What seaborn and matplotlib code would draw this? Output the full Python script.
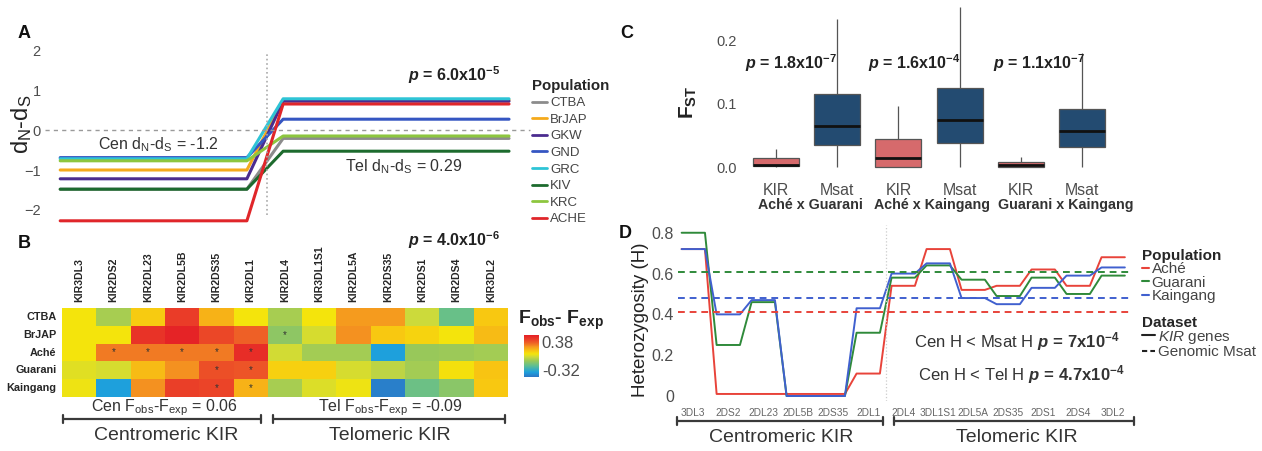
import numpy as np
import pandas as pd
import matplotlib
matplotlib.use("Agg")
import matplotlib.pyplot as plt
import seaborn as sns
from matplotlib.colors import LinearSegmentedColormap
from matplotlib.lines import Line2D

sns.set_style("white")
plt.rcParams['font.family'] = ['Liberation Sans', 'DejaVu Sans']
plt.rcParams['mathtext.fontset'] = 'custom'
plt.rcParams['mathtext.rm'] = 'Liberation Sans'
plt.rcParams['mathtext.it'] = 'Liberation Sans:italic'
plt.rcParams['mathtext.bf'] = 'Liberation Sans:bold'
plt.rcParams['mathtext.bfit'] = 'Liberation Sans:italic:bold'

# ---------------- data ----------------
# A: dN-dS per population, centromeric vs telomeric
pops = ['CTBA', 'BrJAP', 'GKW', 'GND', 'GRC', 'KIV', 'KRC', 'ACHE']
cen_dnds = [-1.48, -1.00, -1.22, -0.69, -0.72, -1.48, -0.77, -2.27]
tel_dnds = [-0.21, 0.75, 0.72, 0.27, 0.78, -0.53, -0.15, 0.65]
pop_colors = ['#8C8C8C', '#F5AA1C', '#4B2C8F', '#3556C2', '#2EC4D6', '#1D6B2E', '#8DC63F', '#E0262A']

# B: Fobs - Fexp heatmap
genes_b = ['KIR3DL3', 'KIR2DS2', 'KIR2DL23', 'KIR2DL5B', 'KIR2DS35', 'KIR2DL1', 'KIR2DL4',
           'KIR3DL1S1', 'KIR2DL5A', 'KIR2DS35', 'KIR2DS1', 'KIR2DS4', 'KIR3DL2']
rows_b = ['CTBA', 'BrJAP', 'Aché', 'Guarani', 'Kaingang']
fd_ctba = [0.08, -0.07, 0.14, 0.45, 0.20, 0.08, -0.07, 0.08, 0.25, 0.25, 0.00, -0.20, 0.15]
fd_brjap = [0.08, 0.08, 0.48, 0.53, 0.42, 0.36, -0.12, 0.02, 0.27, 0.15, 0.12, 0.08, 0.18]
fd_ache = [0.08, 0.31, 0.31, 0.31, 0.31, 0.50, 0.01, -0.08, -0.08, -0.38, -0.10, -0.09, -0.08]
fd_guarani = [0.04, 0.02, 0.18, 0.27, 0.40, 0.39, 0.13, 0.13, 0.02, -0.03, -0.08, 0.09, 0.16]
fd_kaingang = [0.07, -0.38, 0.27, 0.44, 0.43, 0.20, -0.07, 0.03, 0.07, -0.47, -0.19, -0.13, 0.15]
signif_cells = [(1, 6), (2, 1), (2, 2), (2, 3), (2, 4), (2, 5), (3, 4), (3, 5), (4, 4), (4, 5)]

# C: Fst boxplots (min, q1, median, q3, max)
pairs = ['Aché x Guarani', 'Aché x Kaingang', 'Guarani x Kaingang']
kir_fst = [[0.0, 0.002, 0.004, 0.014, 0.029],
           [0.0, 0.0, 0.014, 0.045, 0.097],
           [0.0, 0.0, 0.003, 0.009, 0.017]]
msat_fst = [[0.0, 0.035, 0.065, 0.115, 0.233],
            [0.0, 0.038, 0.075, 0.125, 0.253],
            [0.0, 0.032, 0.057, 0.092, 0.180]]
p_fst = ['1.8', '1.6', '1.1']
p_fst_exp = ['-7', '-4', '-7']

# D: heterozygosity per gene
genes_d = ['3DL3', '2DS2', '2DL23', '2DL5B', '2DS35', '2DL1', '2DL4',
           '3DL1S1', '2DL5A', '2DS35', '2DS1', '2DS4', '3DL2']
h_ache = [0.72, 0.01, 0.01, 0.01, 0.01, 0.11, 0.54, 0.72, 0.52, 0.54, 0.62, 0.54, 0.68]
h_guarani = [0.80, 0.25, 0.46, 0.00, 0.00, 0.31, 0.58, 0.64, 0.57, 0.49, 0.58, 0.50, 0.59]
h_kaingang = [0.72, 0.40, 0.47, 0.00, 0.00, 0.43, 0.60, 0.65, 0.48, 0.45, 0.53, 0.59, 0.63]
h_msat = [0.41, 0.61, 0.48]
d_pops = ['Aché', 'Guarani', 'Kaingang']
d_colors = ['#E8433A', '#2F8A3A', '#4060CF']

# ---------------- layout helpers ----------------
W, H = 1262, 451
fig = plt.figure(figsize=(W / 100, H / 100), dpi=100)


def rect(l, t, r, b):
    return [l / W, 1 - b / H, (r - l) / W, (b - t) / H]


def fx(x):
    return x / W


def fy(y):
    return 1 - y / H


def txt(x, y, s, **kw):
    fig.text(fx(x), fy(y), s, **kw)


def bracket(x0, x1, y, tick=4):
    for xs, ys in [([x0, x1], [y, y]), ([x0, x0], [y - tick, y + tick]), ([x1, x1], [y - tick, y + tick])]:
        fig.add_artist(Line2D([fx(v) for v in xs], [fy(v) for v in ys], color='#3a3a3a', lw=1.6))


GRAY = '#4d4d4d'

# ---------------- panel A ----------------
axA = fig.add_axes(rect(45, 45, 535, 225))
stops_a = [0.031, 0.412, 0.486, 0.947]
recs = []
for p, c, t in zip(pops, cen_dnds, tel_dnds):
    for x, v in zip(stops_a, [c, c, t, t]):
        recs.append((p, x, v))
dfa = pd.DataFrame(recs, columns=['pop', 'x', 'dnds'])
sns.lineplot(data=dfa, x='x', y='dnds', hue='pop', hue_order=pops,
             palette=dict(zip(pops, pop_colors)), estimator=None, sort=False,
             lw=2.2, legend=False, ax=axA)
axA.axhline(0, xmin=0, xmax=0.99, color='#9a9a9a', ls=(0, (3, 3)), lw=1)
axA.axvline(0.453, ymin=0.056, ymax=0.956, color='#aaaaaa', ls=':', lw=1.2)
axA.set_xlim(0, 1)
axA.set_ylim(-2.375, 2.125)
axA.set_xticks([])
axA.set_yticks([-2, -1, 0, 1, 2])
axA.tick_params(axis='y', length=0, pad=3, labelcolor=GRAY, labelsize=10.5)
axA.set_xlabel('')
axA.set_ylabel(r'd$_\mathrm{N}$-d$_\mathrm{S}$', fontsize=17, color='#222')
axA.yaxis.set_label_coords(-0.022, 0.56)
for s in axA.spines.values():
    s.set_visible(False)
axA.patch.set_alpha(0)
axA.legend([Line2D([], [], color=c, lw=2) for c in pop_colors], pops,
           title='Population', loc='upper left', bbox_to_anchor=(fx(529), fy(76)),
           bbox_transform=fig.transFigure, frameon=False, fontsize=9.5,
           title_fontproperties={'weight': 'bold', 'size': 10.8}, labelcolor='#444',
           handlelength=1.2, handletextpad=0.2, labelspacing=0.33, borderpad=0.2,
           borderaxespad=0, alignment='left')

txt(98, 145, r'Cen d$_\mathrm{N}$-d$_\mathrm{S}$ = -1.2', fontsize=11.5, color='#333', va='center')
txt(345, 167, r'Tel d$_\mathrm{N}$-d$_\mathrm{S}$ = 0.29', fontsize=11.5, color='#333', va='center')
txt(408, 75, r'$\mathbfit{p}$ = 6.0x10$^{\mathbf{-5}}$', fontsize=11.5, fontweight='bold', color='#222', va='center')

# ---------------- panel B ----------------
axB = fig.add_axes(rect(62, 308, 508, 397))
cax = fig.add_axes(rect(524, 335, 539, 377))
dfb = pd.DataFrame([fd_ctba, fd_brjap, fd_ache, fd_guarani, fd_kaingang], index=rows_b)
stars = np.full(dfb.shape, '', dtype=object)
for r, c in signif_cells:
    stars[r, c] = '*'
cvals = [-0.5, -0.38, -0.22, -0.10, 0.0, 0.08, 0.16, 0.26, 0.36, 0.45, 0.55]
ccols = ['#2C74C4', '#1EA0DC', '#5EBE92', '#98C85A', '#CDDA3A', '#F4E40C',
         '#F8C412', '#F5961F', '#EE6026', '#EA3C28', '#E41E26']
cmap = LinearSegmentedColormap.from_list(
    'fobs', [((v - cvals[0]) / (cvals[-1] - cvals[0]), c) for v, c in zip(cvals, ccols)])
sns.heatmap(dfb, cmap=cmap, vmin=-0.5, vmax=0.55, ax=axB, cbar_ax=cax,
            annot=stars, fmt='', annot_kws={'color': '#333', 'fontsize': 7},
            xticklabels=genes_b, yticklabels=rows_b, linewidths=0)
axB.xaxis.tick_top()
axB.tick_params(axis='x', length=0, pad=4, labelsize=7.6, rotation=90)
axB.tick_params(axis='y', length=0, pad=4, labelsize=7.8, rotation=0)
for lab in axB.get_xticklabels() + axB.get_yticklabels():
    lab.set_fontweight('bold')
axB.set_xlabel('')
axB.set_ylabel('')
cbar = axB.collections[0].colorbar
cbar.outline.set_visible(False)
cbar.set_ticks([-0.32, 0.38])
cbar.set_ticklabels(['-0.32', '0.38'])
cax.tick_params(length=0, pad=2, labelsize=12, labelcolor=GRAY)

txt(518, 320, r'F$_\mathbf{obs}$- F$_\mathbf{exp}$', fontsize=14, fontweight='bold', color='#222', va='center')
txt(408, 240, r'$\mathbfit{p}$ = 4.0x10$^{\mathbf{-6}}$', fontsize=11.5, fontweight='bold', color='#222', va='center')
txt(164, 408, r'Cen F$_\mathrm{obs}$-F$_\mathrm{exp}$ = 0.06', fontsize=11.5, color='#333', ha='center', va='center')
txt(390, 408, r'Tel F$_\mathrm{obs}$-F$_\mathrm{exp}$ = -0.09', fontsize=11.5, color='#333', ha='center', va='center')
bracket(63, 261, 419)
bracket(273, 505, 419)
txt(166, 436, 'Centromeric KIR', fontsize=14, color='#333', ha='center', va='center')
txt(390, 436, 'Telomeric KIR', fontsize=14, color='#333', ha='center', va='center')

# ---------------- panel C ----------------
axC = fig.add_axes(rect(742, 1, 1116, 175))
slots, markers, vals = [], [], []
order = []
for i in range(len(pairs)):
    for m, arr in (('KIR', kir_fst), ('Msat', msat_fst)):
        name = f'{m}{i}'
        order.append(name)
        for v in arr[i]:
            slots.append(name)
            markers.append(m)
            vals.append(v)
dfc = pd.DataFrame({'slot': slots, 'marker': markers, 'fst': vals})
sns.boxplot(data=dfc, x='slot', y='fst', hue='marker', order=order,
            palette={'KIR': '#E8585B', 'Msat': '#164C7E'}, dodge=False, width=0.75,
            whis=(0, 100), showcaps=False, linecolor='#555555', linewidth=0.9,
            medianprops={'color': '#111', 'linewidth': 2}, legend=False, ax=axC)
axC.set_xlim(-0.556, 5.556)
axC.set_ylim(-0.012, 0.262)
axC.set_xticks(range(6))
axC.set_xticklabels(['KIR', 'Msat'] * 3)
axC.set_yticks([0, 0.1, 0.2])
axC.set_yticklabels(['0.0', '0.1', '0.2'])
axC.tick_params(axis='y', length=2.5, width=0.8, color=GRAY, labelcolor=GRAY, labelsize=10.5, pad=1)
axC.tick_params(axis='x', length=2.5, width=0.8, color=GRAY, labelcolor=GRAY, labelsize=11.4, pad=3)
axC.set_xlabel('')
axC.set_ylabel(r'F$_\mathbf{ST}$', fontsize=15, fontweight='bold', color='#222')
axC.yaxis.set_label_coords(-0.115, 0.42)
for s in axC.spines.values():
    s.set_visible(False)
axC.patch.set_alpha(0)
for name, xc in zip(pairs, [810, 932, 1066]):
    txt(xc, 205, name, fontsize=10.3, fontweight='bold', color='#333', ha='center', va='center')
for x0, p, e in zip([745, 868, 993], p_fst, p_fst_exp):
    txt(x0, 63, r'$\mathbfit{p}$ = ' + p + r'x10$^{\mathbf{' + e + '}}$',
        fontsize=11.5, fontweight='bold', color='#222', va='center')

# ---------------- panel D ----------------
axD = fig.add_axes(rect(678, 225, 1130, 401))
recs = []
for p, arr in zip(d_pops, [h_ache, h_guarani, h_kaingang]):
    for i, v in enumerate(arr):
        recs.append((p, i - 1 / 3, v))
        recs.append((p, i + 1 / 3, v))
dfd = pd.DataFrame(recs, columns=['pop', 'x', 'h'])
sns.lineplot(data=dfd, x='x', y='h', hue='pop', hue_order=d_pops,
             palette=dict(zip(d_pops, d_colors)), estimator=None, sort=False,
             lw=1.4, legend=False, ax=axD)
for v, c in zip(h_msat, d_colors):
    axD.axhline(v, color=c, ls=(0, (3.5, 2.5)), lw=1.4)
axD.axvline(5.5, color='#cccccc', ls=':', lw=0.9)
axD.set_xlim(-0.437, 12.48)
axD.set_ylim(-0.0245, 0.838)
axD.set_xticks(range(len(genes_d)))
axD.set_xticklabels(genes_d)
axD.set_yticks([0, 0.2, 0.4, 0.6, 0.8])
axD.set_yticklabels(['0', '0.2', '0.4', '0.6', '0.8'])
axD.tick_params(axis='y', length=0, pad=3, labelcolor=GRAY, labelsize=11.5)
axD.tick_params(axis='x', length=0, pad=5, labelcolor='#666', labelsize=7.3)
axD.set_xlabel('')
axD.set_ylabel('Heterozygosity (H)', fontsize=13.5, color='#222')
axD.yaxis.set_label_coords(-0.065, 0.46)
for s in axD.spines.values():
    s.set_visible(False)
axD.patch.set_alpha(0)

leg1 = axD.legend([Line2D([], [], color=c, lw=1.5) for c in d_colors], d_pops,
                  title='Population', loc='upper left', bbox_to_anchor=(fx(1137), fy(244)),
                  bbox_transform=fig.transFigure, frameon=False, fontsize=11,
                  title_fontproperties={'weight': 'bold', 'size': 11}, labelcolor='#444',
                  handlelength=0.5, handletextpad=0.15, labelspacing=-0.03, borderpad=0.3,
                  borderaxespad=0, alignment='left')
axD.add_artist(leg1)
axD.legend([Line2D([], [], color='#222', lw=1.5), Line2D([], [], color='#222', lw=1.5, ls=(0, (2.5, 1.5)))],
           [r'$\mathit{KIR}$ genes', 'Genomic Msat'],
           title='Dataset', loc='upper left', bbox_to_anchor=(fx(1137), fy(311)),
           bbox_transform=fig.transFigure, frameon=False, fontsize=11,
           title_fontproperties={'weight': 'bold', 'size': 11}, labelcolor='#444',
           handlelength=0.9, handletextpad=0.2, labelspacing=-0.05, borderpad=0.3,
           borderaxespad=0, alignment='left')

txt(914, 342, r'Cen H < Msat H $\mathbfit{p}\,\mathbf{=}\,\mathbf{7x10^{-4}}$', fontsize=12, color='#333', va='center')
txt(918, 375, r'Cen H < Tel H $\mathbfit{p}\,\mathbf{=}\,\mathbf{4.7x10^{-4}}$', fontsize=12, color='#333', va='center')
bracket(677, 883, 421)
bracket(894, 1134, 421)
txt(781, 438, 'Centromeric KIR', fontsize=14, color='#333', ha='center', va='center')
txt(1017, 438, 'Telomeric KIR', fontsize=14, color='#333', ha='center', va='center')

# panel letters
for letter, x, y in [('A', 24, 33), ('B', 24, 243), ('C', 627, 33), ('D', 625, 233)]:
    txt(x, y, letter, fontsize=13, fontweight='bold', color='#111', ha='center', va='center')

fig.savefig('out.png', dpi=100)
